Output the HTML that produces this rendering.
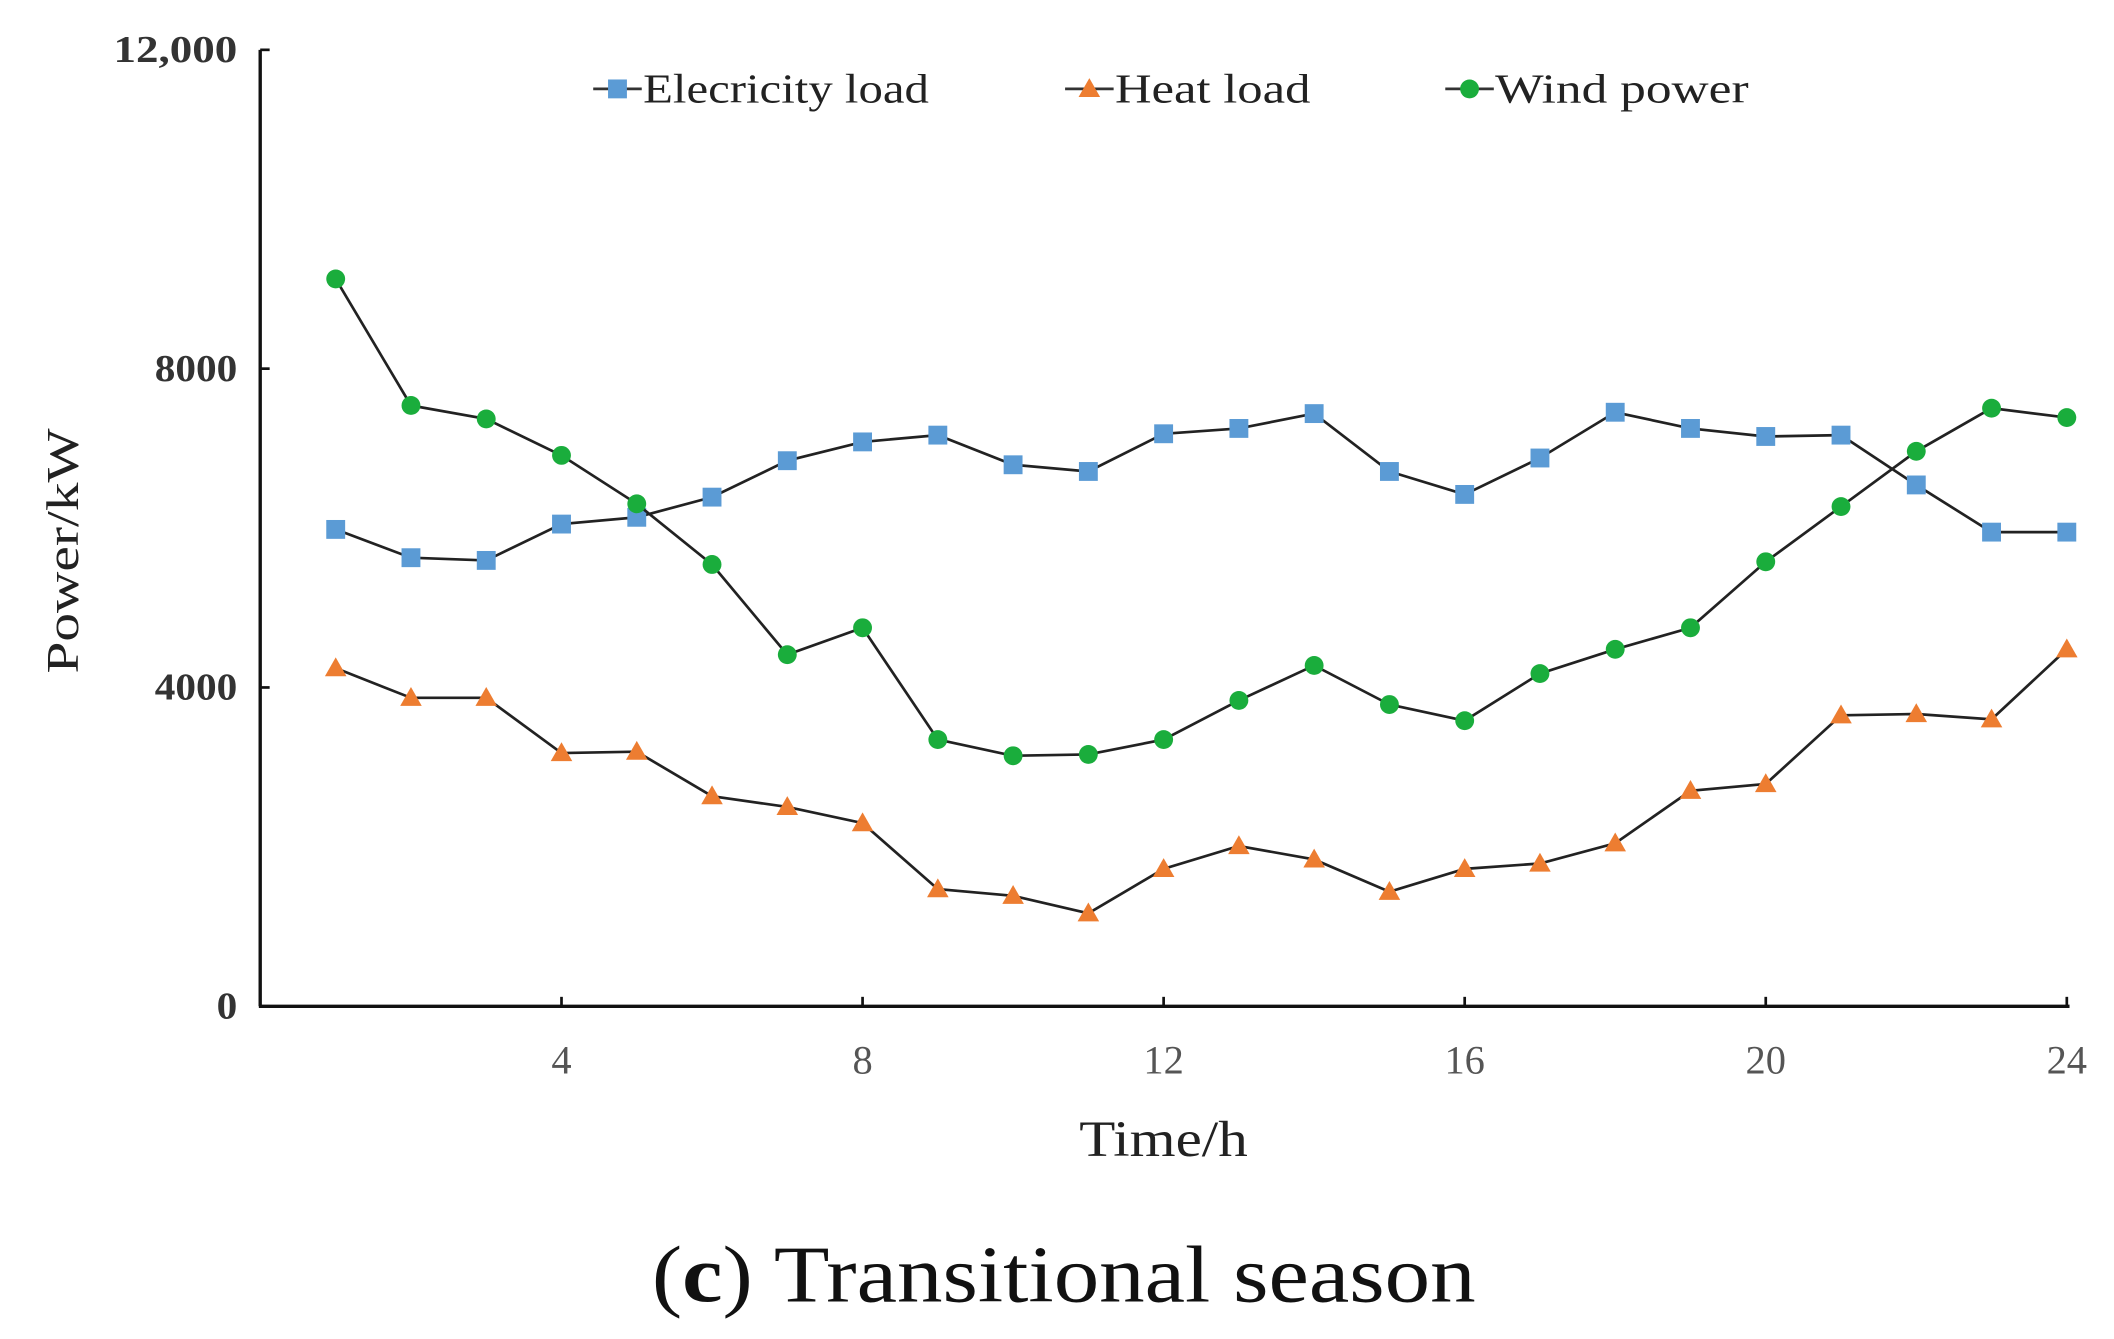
<!DOCTYPE html>
<html><head><meta charset="utf-8"><style>html,body{margin:0;padding:0;background:#fff}svg{display:block}</style></head>
<body>
<svg id="chart" width="2114" height="1339" viewBox="0 0 1568 994" preserveAspectRatio="none" xmlns="http://www.w3.org/2000/svg" font-family="'Liberation Serif', serif">
<g id="axes"></g>
<g id="series"></g>
<g id="legend"></g>
<text x="0" y="0" transform="translate(58,409) rotate(-90)" text-anchor="middle" font-size="34" textLength="182" lengthAdjust="spacingAndGlyphs" fill="#222">Power/kW</text>
<text x="863" y="858" text-anchor="middle" font-size="38" textLength="125" lengthAdjust="spacingAndGlyphs" fill="#222">Time/h</text>
<text x="789" y="966" text-anchor="middle" font-size="60" textLength="611" lengthAdjust="spacingAndGlyphs" fill="#111">(<tspan font-weight="bold">c</tspan>) Transitional season</text>
</svg>
<script>
const hours = [1,2,3,4,5,6,7,8,9,10,11,12,13,14,15,16,17,18,19,20,21,22,23,24];
const electricity = [5983,5628,5594,6050,6135,6388,6845,7081,7166,6794,6710,7183,7250,7436,6710,6422,6879,7453,7250,7149,7166,6541,5949,5949];
const heat = [4242,3870,3870,3177,3194,2636,2501,2298,1470,1386,1166,1724,2011,1842,1437,1724,1791,2045,2704,2789,3651,3667,3600,4479];
const wind = [9126,7538,7369,6912,6304,5543,4411,4749,3346,3143,3160,3346,3837,4276,3786,3583,4174,4479,4749,5577,6270,6963,7504,7386];
const yTicks = [0,4000,8000,12000];
const yTickLabels = ['0','4000','8000','12,000'];
const xTicks = [4,8,12,16,20,24];

const NS='http://www.w3.org/2000/svg';
const X = h => 249 + (h-1)*(1533-249)/23;
const Y = v => 747 - v*(747-37)/12000;
function mk(tag, attrs, parent){const e=document.createElementNS(NS,tag);for(const k in attrs)e.setAttribute(k,attrs[k]);parent.appendChild(e);return e;}
const axes=document.getElementById('axes'), series=document.getElementById('series'), legend=document.getElementById('legend');

let ax=mk('line',{x1:193,y1:Y(12000),x2:193,y2:Y(0),stroke:'#111','stroke-width':2.5},axes);


ax=mk('line',{x1:192,y1:Y(0),x2:1535,y2:Y(0),stroke:'#111','stroke-width':2.5},axes);


yTicks.forEach((v,i)=>{
  const t=mk('line',{x1:193,y1:Y(v),x2:200,y2:Y(v),stroke:'#111','stroke-width':2},axes);
  
  
  const s=yTickLabels[i];
  const l=mk('text',{x:176,y:Y(v)+9,'text-anchor':'end','font-size':28,'font-weight':'bold',fill:'#333',textLength:s.length*15.3,lengthAdjust:'spacingAndGlyphs'},axes);
  l.textContent=s;
  
  
});
xTicks.forEach(h=>{
  const t=mk('line',{x1:X(h),y1:Y(0),x2:X(h),y2:Y(0)-7,stroke:'#111','stroke-width':2},axes);
  
  
  const s=String(h);
  const l=mk('text',{x:X(h),y:797,'text-anchor':'middle','font-size':30,fill:'#555',textLength:s.length*15,lengthAdjust:'spacingAndGlyphs'},axes);
  l.textContent=s;
  
  
});

function marker(type,x,y,color,g){
  let m;
  if(type==='square') m=mk('rect',{x:x-7,y:y-7,width:14,height:14,fill:color},g);
  else if(type==='tri') m=mk('polygon',{points:`${x},${y-8} ${x+8},${y+6} ${x-8},${y+6}`,fill:color},g);
  else m=mk('circle',{cx:x,cy:y,r:7,fill:color},g);
  return m;
}
function drawSeries(vals,type,color,name){
  const g=mk('g',{},series);
  
  
  const p=mk('polyline',{points:vals.map((v,i)=>X(hours[i])+','+Y(v)).join(' '),fill:'none',stroke:'#222','stroke-width':2},g);
  
  
  vals.forEach((v,i)=>{
    const m=marker(type,X(hours[i]),Y(v),color,g);
    
    
  });
}
drawSeries(electricity,'square','#5b9bd5','electricity');
drawSeries(heat,'tri','#ed7d31','heat');
drawSeries(wind,'circle','#1aad3c','wind');

[['Elecricity load','square','#5b9bd5',440,212],['Heat load','tri','#ed7d31',790,145],['Wind power','circle','#1aad3c',1072,188]].forEach(([t,type,c,x,w])=>{
  const g=mk('g',{},legend);
  
  
  mk('line',{x1:x,y1:66,x2:x+36,y2:66,stroke:'#333','stroke-width':2},g);
  marker(type,x+18,66,c,g);
  const l=mk('text',{x:x+37,y:76,'font-size':31,fill:'#222',textLength:w,lengthAdjust:'spacingAndGlyphs'},g);
  l.textContent=t;
});
</script>
</body></html>
